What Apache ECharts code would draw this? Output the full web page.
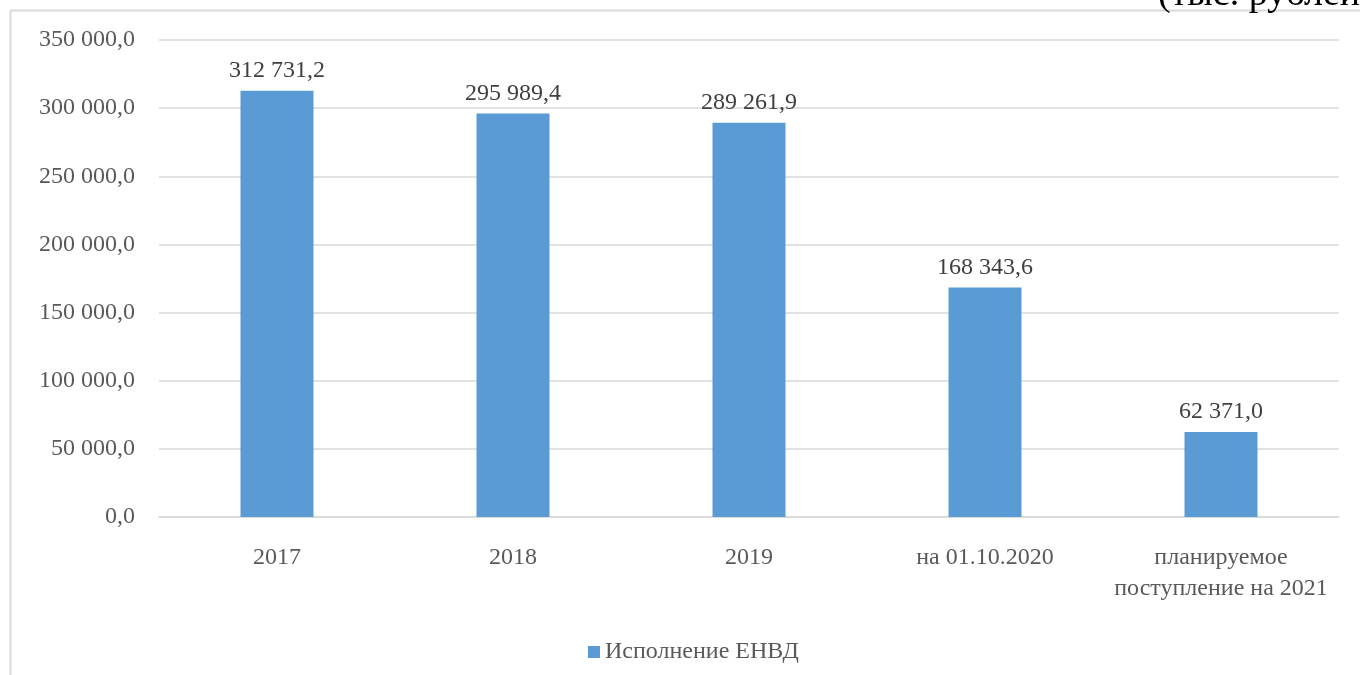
<!DOCTYPE html>
<html>
<head>
<meta charset="utf-8">
<script src="https://cdn.jsdelivr.net/npm/echarts@6/dist/echarts.min.js"></script>
<style>
html, body { margin: 0; padding: 0; background: #fff; }
#chart { width: 1360px; height: 675px; }
</style>
</head>
<body>
<div id="chart"></div>
<script>
const categories = ['2017', '2018', '2019', 'на 01.10.2020', 'планируемое\nпоступление на 2021'];
const values = [312731.2, 295989.4, 289261.9, 168343.6, 62371.0];
const seriesName = 'Исполнение ЕНВД';
const unitText = '(тыс. рублей)';

const fmt = (v) => {
    const parts = Number(v).toFixed(1).split('.');
    return parts[0].replace(/\B(?=(\d{3})+(?!\d))/g, ' ') + ',' + parts[1];
};

const font = 'Liberation Serif';
const myChart = echarts.init(document.getElementById('chart'));

const option = {
    animation: false,
    textStyle: { fontFamily: font },
    graphic: [
        // рамка области диаграммы
        { type: 'line', shape: { x1: 10.5, y1: 10.5, x2: 1360, y2: 10.5 }, style: { stroke: '#d9d9d9', lineWidth: 2 } },
        { type: 'line', shape: { x1: 10.5, y1: 10.5, x2: 10.5, y2: 675 }, style: { stroke: '#d9d9d9', lineWidth: 2 } },
        {
            type: 'text', left: 1158, top: -24,
            style: { text: unitText, fontSize: 38, fontFamily: font, fill: '#000' }
        }
    ],
    grid: { left: 159, right: 21, top: 40, bottom: 158, containLabel: false },
    legend: {
        top: 640,
        left: 588,
        padding: 0,
        itemWidth: 12,
        itemHeight: 12,
        icon: 'rect',
        textStyle: { fontSize: 24, color: '#595959', fontFamily: font },
        data: [seriesName]
    },
    xAxis: {
        type: 'category',
        data: categories,
        axisLine: { lineStyle: { color: '#d9d9d9', width: 1.5 } },
        axisTick: { show: false },
        axisLabel: { color: '#595959', fontSize: 24, fontFamily: font, margin: 25, lineHeight: 31, interval: 0 }
    },
    yAxis: {
        type: 'value',
        min: 0,
        max: 350000,
        interval: 50000,
        axisLine: { show: false },
        axisTick: { show: false },
        axisLabel: { color: '#595959', fontSize: 24, fontFamily: font, margin: 24, formatter: fmt },
        splitLine: { lineStyle: { color: '#d9d9d9', width: 1.5 } }
    },
    series: [
        {
            name: seriesName,
            type: 'bar',
            data: values,
            barWidth: 73,
            itemStyle: { color: '#5b9bd5' },
            label: {
                show: true,
                position: 'top',
                distance: 8,
                color: '#404040',
                fontSize: 24,
                fontFamily: font,
                formatter: (p) => fmt(p.value)
            }
        }
    ]
};

myChart.setOption(option);
window.addEventListener('resize', () => {
    myChart.resize();
});
</script>
</body>
</html>
